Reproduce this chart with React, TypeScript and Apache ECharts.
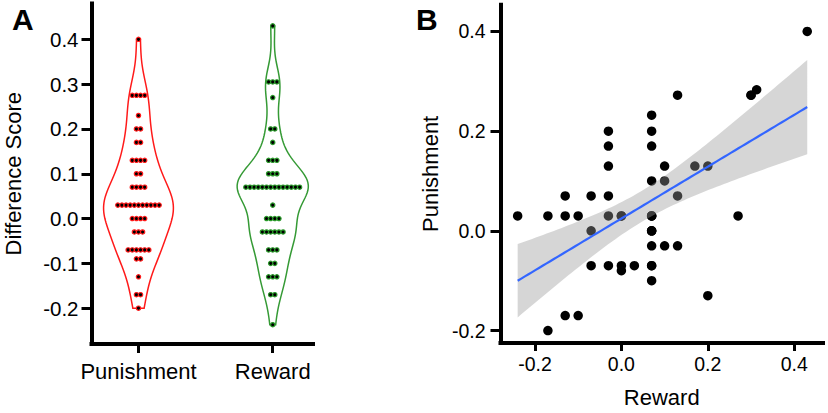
import React, { useEffect, useRef } from "react";
import * as echarts from "echarts";

// ---------- Panel A data (dot rows) ----------
const groups = ["Punishment", "Reward"];
const punishmentRowValues = [0.4, 0.275, 0.23, 0.2, 0.17, 0.13, 0.1, 0.07, 0.03, 0.0, -0.03, -0.07, -0.09, -0.13, -0.17, -0.2];
const punishmentRowCounts = [1, 4, 1, 2, 2, 4, 2, 4, 11, 4, 3, 6, 2, 1, 2, 1];
const rewardRowValues = [0.43, 0.305, 0.27, 0.2, 0.17, 0.13, 0.1, 0.07, 0.03, 0.0, -0.03, -0.07, -0.1, -0.13, -0.17, -0.237];
const rewardRowCounts = [1, 3, 1, 2, 1, 3, 3, 14, 1, 4, 6, 3, 2, 3, 2, 1];
const diffTicks = [-0.2, -0.1, 0, 0.1, 0.2, 0.3, 0.4];

// ---------- Panel B data (one pair per participant) ----------
const rewardScores = [
  0.43, 0.30, 0.30, 0.313, 0.13, 0.07, 0.07, 0.07, -0.03, -0.03,
  -0.03, 0.10, 0.17, 0.20, 0.07, 0.10, 0.13, -0.13, -0.07, -0.03,
  -0.24, -0.17, -0.13, -0.10, -0.03, 0.00, 0.00, 0.07, 0.07, 0.07,
  0.27, -0.07, 0.07, 0.07, 0.07, 0.07, 0.10, 0.13, -0.07, -0.03,
  0.00, 0.00, 0.03, 0.07, 0.07, 0.07, 0.20, -0.13, -0.10, -0.17,
];
const punishmentScores = [
  0.40, 0.272, 0.272, 0.283, 0.272, 0.232, 0.20, 0.17, 0.20, 0.17,
  0.13, 0.13, 0.13, 0.13, 0.10, 0.10, 0.07, 0.07, 0.07, 0.07,
  0.03, 0.03, 0.03, 0.03, 0.03, 0.03, 0.03, 0.03, 0.03, 0.03,
  0.03, 0.00, 0.00, 0.00, 0.00, -0.03, -0.03, -0.03, -0.07, -0.07,
  -0.07, -0.08, -0.07, -0.07, -0.07, -0.10, -0.13, -0.17, -0.17, -0.20,
];
const scatterXTicks = [-0.2, 0, 0.2, 0.4];
const scatterYTicks = [-0.2, 0, 0.2, 0.4];

const FONT = "Liberation Sans, Arial, Helvetica, sans-serif";
const violinColors = ["#ff1a1a", "#359a35"];
const dotEdgeColors = ["#ff1a1a", "#2a9a2a"];

function expand(vals: number[], counts: number[]) {
  const out: number[] = [];
  vals.forEach((v, i) => {
    for (let k = 0; k < counts[i]; k++) out.push(v);
  });
  return out;
}

function quantile(sorted: number[], p: number) {
  const h = (sorted.length - 1) * p;
  const lo = Math.floor(h);
  const hi = Math.ceil(h);
  return sorted[lo] + (sorted[hi] - sorted[lo]) * (h - lo);
}

function bandwidth(vals: number[]) {
  const n = vals.length;
  const mean = vals.reduce((a, b) => a + b, 0) / n;
  const sd = Math.sqrt(vals.reduce((a, b) => a + (b - mean) ** 2, 0) / (n - 1));
  const s = [...vals].sort((a, b) => a - b);
  const iqr = quantile(s, 0.75) - quantile(s, 0.25);
  return 0.9 * Math.min(sd, iqr / 1.34) * Math.pow(n, -0.2);
}

function density(vals: number[], bw: number, y: number) {
  let s = 0;
  for (const v of vals) {
    const z = (y - v) / bw;
    s += Math.exp(-0.5 * z * z);
  }
  return s / (vals.length * bw * Math.sqrt(2 * Math.PI));
}

function violinOutline(vals: number[], center: number, halfWidth: number) {
  const bw = bandwidth(vals);
  const lo = Math.min(...vals);
  const hi = Math.max(...vals);
  const steps = 120;
  const ys: number[] = [];
  for (let i = 0; i <= steps; i++) ys.push(lo + ((hi - lo) * i) / steps);
  const ds = ys.map((y) => density(vals, bw, y));
  const maxD = Math.max(...ds);
  const right = ys.map((y, i) => [center + (ds[i] / maxD) * halfWidth, y]);
  const left = ys.map((y, i) => [center - (ds[i] / maxD) * halfWidth, y]).reverse();
  return right.concat(left);
}

function dotRows(vals: number[], counts: number[], center: number, step: number) {
  const pts: number[][] = [];
  vals.forEach((v, i) => {
    const k = counts[i];
    for (let j = 0; j < k; j++) pts.push([center + (j - (k - 1) / 2) * step, v]);
  });
  return pts;
}

function linearFit(xs: number[], ys: number[]) {
  const n = xs.length;
  const mx = xs.reduce((a, b) => a + b, 0) / n;
  const my = ys.reduce((a, b) => a + b, 0) / n;
  let sxx = 0;
  let sxy = 0;
  for (let i = 0; i < n; i++) {
    sxx += (xs[i] - mx) ** 2;
    sxy += (xs[i] - mx) * (ys[i] - my);
  }
  const slope = sxy / sxx;
  const intercept = my - slope * mx;
  let sse = 0;
  for (let i = 0; i < n; i++) sse += (ys[i] - (intercept + slope * xs[i])) ** 2;
  const s = Math.sqrt(sse / (n - 2));
  return { slope, intercept, mx, sxx, s, n };
}

export default function App() {
  const ref = useRef<HTMLDivElement>(null);

  useEffect(() => {
    if (!ref.current) return;
    const chart = echarts.init(ref.current, null, { renderer: "svg" });

    const pVals = expand(punishmentRowValues, punishmentRowCounts);
    const rVals = expand(rewardRowValues, rewardRowCounts);
    const outlines = [violinOutline(pVals, 1, 0.26), violinOutline(rVals, 2, 0.265)];
    const dotStep = 0.0308;
    const pDots = dotRows(punishmentRowValues, punishmentRowCounts, 1, dotStep);
    const rDots = dotRows(rewardRowValues, rewardRowCounts, 2, dotStep);

    const fit = linearFit(rewardScores, punishmentScores);
    const xMin = Math.min(...rewardScores);
    const xMax = Math.max(...rewardScores);
    const tCrit = 2.0106;
    const upper: number[][] = [];
    const lower: number[][] = [];
    const linePts: number[][] = [];
    const N = 80;
    for (let i = 0; i <= N; i++) {
      const x = xMin + ((xMax - xMin) * i) / N;
      const yh = fit.intercept + fit.slope * x;
      const se = fit.s * Math.sqrt(1 / fit.n + (x - fit.mx) ** 2 / fit.sxx);
      upper.push([x, yh + tCrit * se]);
      lower.push([x, yh - tCrit * se]);
      linePts.push([x, yh]);
    }
    const bandPoly = upper.concat([...lower].reverse());

    const axisLineStyle = { color: "#000", width: 4, cap: "square" };
    const tickStyle = { color: "#000", width: 3 };

    const option: any = {
      animation: false,
      backgroundColor: "#fff",
      textStyle: { fontFamily: FONT },
      grid: [
        { left: 91.5, top: 3.5, width: 221.5, height: 340.5, containLabel: false },
        { left: 500.5, top: 4.7, width: 322.5, height: 342, containLabel: false },
      ],
      xAxis: [
        {
          type: "value",
          gridIndex: 0,
          min: 0.65,
          max: 2.3,
          splitLine: { show: false },
          axisLine: { onZero: false, lineStyle: axisLineStyle },
          axisTick: { show: true, length: 9, lineStyle: tickStyle, customValues: [1, 2] },
          axisLabel: {
            customValues: [1, 2],
            formatter: (v: number) => groups[Math.round(v) - 1] ?? "",
            color: "#000",
            fontSize: 22,
            fontFamily: FONT,
            margin: 16,
          },
        },
        {
          type: "value",
          gridIndex: 1,
          min: -0.2797,
          max: 0.4665,
          name: "Reward",
          nameLocation: "middle",
          nameGap: 54,
          nameTextStyle: { fontSize: 22, color: "#000", fontFamily: FONT, verticalAlign: "middle" },
          splitLine: { show: false },
          axisLine: { onZero: false, lineStyle: axisLineStyle },
          axisTick: { show: true, length: 8, lineStyle: tickStyle, customValues: scatterXTicks },
          axisLabel: {
            customValues: scatterXTicks,
            formatter: (v: number) => v.toFixed(1),
            color: "#000",
            fontSize: 19.5,
            fontFamily: FONT,
            margin: 11,
          },
        },
      ],
      yAxis: [
        {
          type: "value",
          gridIndex: 0,
          min: -0.28,
          max: 0.48,
          name: "Difference Score",
          nameLocation: "middle",
          nameRotate: 90,
          nameGap: 78.5,
          nameTextStyle: { fontSize: 22, color: "#000", fontFamily: FONT, verticalAlign: "middle" },
          splitLine: { show: false },
          axisLine: { onZero: false, lineStyle: axisLineStyle },
          axisTick: { show: true, length: 10, lineStyle: tickStyle, customValues: diffTicks },
          axisLabel: {
            customValues: diffTicks,
            formatter: (v: number) => v.toFixed(1),
            color: "#000",
            fontSize: 20.5,
            fontFamily: FONT,
            margin: 13,
          },
        },
        {
          type: "value",
          gridIndex: 1,
          min: -0.225,
          max: 0.4536,
          name: "Punishment",
          nameLocation: "middle",
          nameRotate: 90,
          nameGap: 70.5,
          nameTextStyle: { fontSize: 22, color: "#000", fontFamily: FONT, verticalAlign: "middle" },
          splitLine: { show: false },
          axisLine: { onZero: false, lineStyle: axisLineStyle },
          axisTick: { show: true, length: 10, lineStyle: tickStyle, customValues: scatterYTicks },
          axisLabel: {
            customValues: scatterYTicks,
            formatter: (v: number) => v.toFixed(1),
            color: "#000",
            fontSize: 19.5,
            fontFamily: FONT,
            margin: 15,
          },
        },
      ],
      graphic: [
        {
          type: "text",
          left: 12,
          top: 4,
          style: { text: "A", fontSize: 30, fontWeight: "bold", fontFamily: FONT, fill: "#000" },
        },
        {
          type: "text",
          left: 416,
          top: 4,
          style: { text: "B", fontSize: 30, fontWeight: "bold", fontFamily: FONT, fill: "#000" },
        },
      ],
      series: [
        {
          type: "custom",
          name: "violins",
          xAxisIndex: 0,
          yAxisIndex: 0,
          silent: true,
          z: 2,
          data: [
            [1, 0],
            [2, 0],
          ],
          renderItem: (params: any, api: any) => {
            const g = params.dataIndex;
            const pts = outlines[g].map((p) => api.coord(p));
            return {
              type: "polygon",
              shape: { points: pts },
              style: { fill: "none", stroke: violinColors[g], lineWidth: 1.5 },
            };
          },
        },
        {
          type: "scatter",
          name: "Punishment",
          xAxisIndex: 0,
          yAxisIndex: 0,
          z: 3,
          symbol: "circle",
          symbolSize: 4.3,
          itemStyle: { color: "#000", borderColor: dotEdgeColors[0], borderWidth: 1.2, opacity: 1 },
          data: pDots,
        },
        {
          type: "scatter",
          name: "Reward",
          xAxisIndex: 0,
          yAxisIndex: 0,
          z: 3,
          symbol: "circle",
          symbolSize: 4.3,
          itemStyle: { color: "#000", borderColor: dotEdgeColors[1], borderWidth: 1.2, opacity: 1 },
          data: rDots,
        },
        {
          type: "scatter",
          name: "Participants",
          xAxisIndex: 1,
          yAxisIndex: 1,
          z: 2,
          symbol: "circle",
          symbolSize: 9.5,
          itemStyle: { color: "#000", opacity: 1 },
          data: rewardScores.map((r, i) => [r, punishmentScores[i]]),
        },
        {
          type: "custom",
          name: "95% CI",
          xAxisIndex: 1,
          yAxisIndex: 1,
          silent: true,
          z: 4,
          data: [[0, 0]],
          renderItem: (_params: any, api: any) => {
            const pts = bandPoly.map((p) => api.coord(p));
            return {
              type: "polygon",
              shape: { points: pts },
              style: { fill: "rgba(153,153,153,0.4)", stroke: "none" },
            };
          },
        },
        {
          type: "line",
          name: "Fit",
          xAxisIndex: 1,
          yAxisIndex: 1,
          z: 5,
          showSymbol: false,
          symbol: "none",
          lineStyle: { color: "#3366ff", width: 2.2 },
          data: linePts,
        },
      ],
    };

    chart.setOption(option);
    return () => chart.dispose();
  }, []);

  return (
    <div
      ref={ref}
      style={{ position: "fixed", left: 0, top: 0, width: 828, height: 413, background: "#fff" }}
    />
  );
}
